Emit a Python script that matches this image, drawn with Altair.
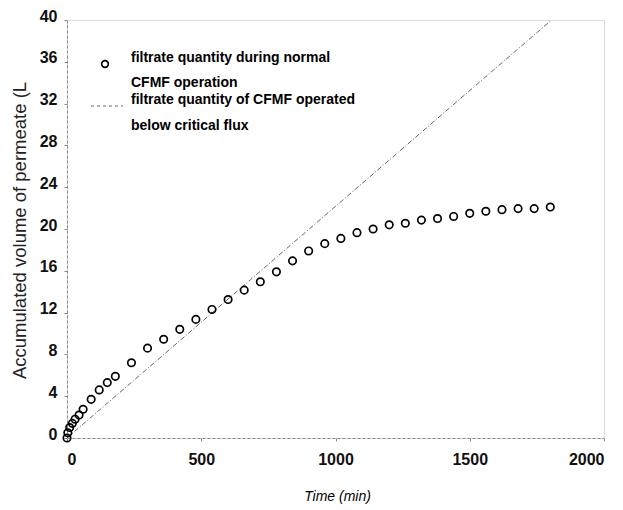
import altair as alt
import pandas as pd

# Measured series: filtrate quantity during normal CFMF operation
time_min = [0, 3, 10, 20, 30, 45, 60, 90, 120, 150, 180, 240, 300, 360, 420, 480,
            540, 600, 660, 720, 780, 840, 900, 960, 1020, 1080, 1140, 1200, 1260,
            1320, 1380, 1440, 1500, 1560, 1620, 1680, 1740, 1800]
volume_L = [0.0, 0.5, 1.0, 1.4, 1.8, 2.2, 2.75, 3.7, 4.6, 5.3, 5.9, 7.2, 8.6, 9.45,
            10.4, 11.35, 12.3, 13.25, 14.15, 14.95, 15.9, 16.95, 17.9, 18.6, 19.1,
            19.65, 20.0, 20.4, 20.55, 20.85, 21.0, 21.2, 21.5, 21.7, 21.85, 21.95,
            21.95, 22.1]

# Below-critical-flux operation (straight line)
line_time = [0, 1800]
line_volume = [0.0, 39.9]

x_ticks = [0, 500, 1000, 1500, 2000]
y_ticks = [0, 4, 8, 12, 16, 20, 24, 28, 32, 36, 40]

legend_normal = ["filtrate quantity during normal", "CFMF operation"]
legend_critical = ["filtrate quantity of CFMF operated", "below critical flux"]

NARROW = "Liberation Sans Narrow, Liberation Sans, Arial"

pts = pd.DataFrame({"t": time_min, "v": volume_L})
ln = pd.DataFrame({"t": line_time, "v": line_volume})

xscale = alt.Scale(domain=[0, 2000], nice=False, zero=True)
yscale = alt.Scale(domain=[0, 40], nice=False, zero=True)

xaxis = alt.Axis(
    title="Time (min)", values=x_ticks, grid=False, format="d",
    labelFont=NARROW, labelFontSize=16, labelFontWeight="bold", labelColor="#111",
    labelPadding=10, tickSize=3, tickColor="#888",
    domainColor="#888", domainDash=[3, 2], domainWidth=1,
    titleFont="Liberation Sans", titleFontSize=14, titleFontStyle="italic",
    titleFontWeight="normal", titleColor="black",
    titleX=270, titleY=58, titleBaseline="middle", titleAnchor="middle",
)
yaxis = alt.Axis(
    title="Accumulated volume of permeate (L", values=y_ticks, grid=False, format="d",
    labelFont=NARROW, labelFontSize=16, labelFontWeight="bold", labelColor="#111",
    labelPadding=7, tickSize=3, tickColor="#888", labelOffset=-4,
    domainColor="#888", domainDash=[3, 2], domainWidth=1,
    titleFont="Liberation Sans", titleFontSize=18.5, titleFontWeight="normal",
    titleColor="#222", titleAngle=-90,
    titleX=-48, titleY=210, titleBaseline="middle", titleAnchor="middle",
)

line = alt.Chart(ln).mark_line(
    color="#555", strokeWidth=0.9, strokeDash=[5, 2, 1, 2]
).encode(
    x=alt.X("t:Q", scale=xscale, axis=xaxis),
    y=alt.Y("v:Q", scale=yscale, axis=yaxis),
)

points = alt.Chart(pts).mark_point(
    shape="circle", filled=False, color="black", strokeWidth=1.7, size=55, opacity=1
).encode(
    x=alt.X("t:Q", scale=xscale),
    y=alt.Y("v:Q", scale=yscale),
)

one = pd.DataFrame({"k": [0]})

leg_sym = alt.Chart(one).mark_point(
    shape="circle", filled=False, color="black", strokeWidth=1.7, size=45, opacity=1
).encode(x=alt.value(38), y=alt.value(44))

leg_line = alt.Chart(one).mark_rule(
    color="#555", strokeWidth=0.9, strokeDash=[3, 3]
).encode(x=alt.value(24), x2=alt.value(56), y=alt.value(86))

leg_txt1 = alt.Chart(one).mark_text(
    align="left", baseline="middle", font=NARROW, fontSize=14, fontWeight="bold",
    lineHeight=25, color="black"
).encode(x=alt.value(64), y=alt.value(38), text=alt.value(legend_normal))

leg_txt2 = alt.Chart(one).mark_text(
    align="left", baseline="middle", font=NARROW, fontSize=14, fontWeight="bold",
    lineHeight=26, color="black"
).encode(x=alt.value(64), y=alt.value(80), text=alt.value(legend_critical))

chart = alt.layer(line, points, leg_sym, leg_line, leg_txt1, leg_txt2).properties(
    width=537, height=418,
    autosize=alt.AutoSizeParams(type="none"),
    padding={"left": 59, "top": 12, "right": 11, "bottom": 70},
).configure_view(stroke=None).configure(background="white")

chart.save("out.html", embed_options={"renderer": "svg", "actions": False})
